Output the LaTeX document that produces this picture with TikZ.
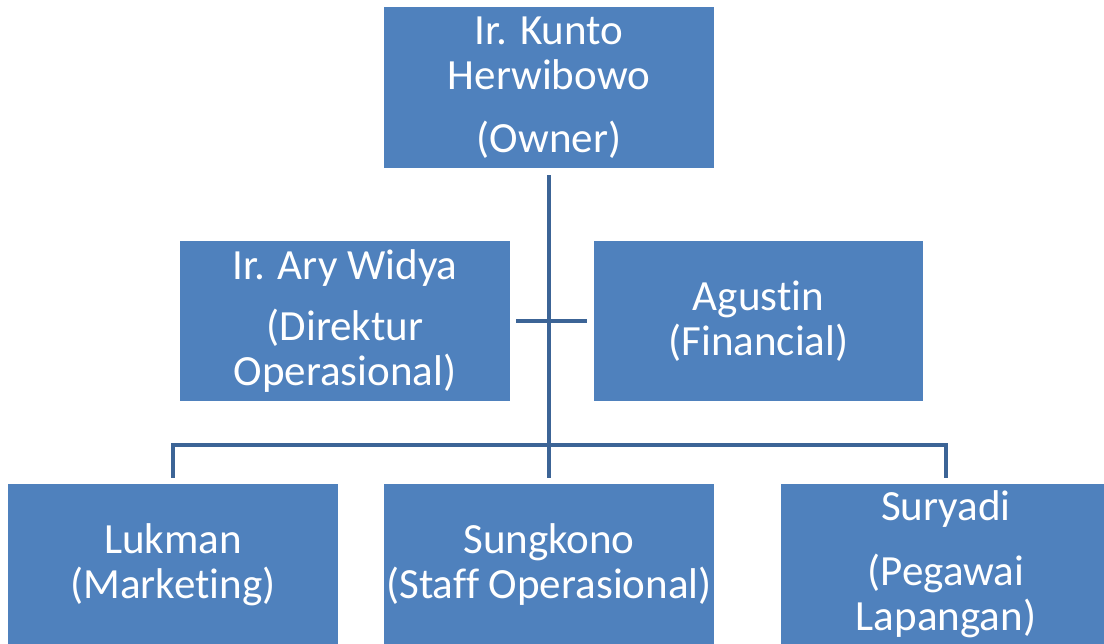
\documentclass[tikz,border=0pt]{standalone}
\usepackage{fontspec}
\setmainfont[Ligatures=NoCommon]{Carlito}
\definecolor{boxblue}{HTML}{4F81BD}
\definecolor{lineblue}{HTML}{3C6496}
\tikzset{
  orgbox/.style={rectangle,fill=boxblue,text=white,minimum width=6.6cm,
    minimum height=3.22cm,inner sep=0pt,align=center,
    font=\fontsize{24.5}{25.6}\selectfont},
  link/.style={draw=lineblue,line width=2.8pt}
}
\begin{document}
\begin{tikzpicture}[x=0.02cm,y=-0.02cm]
\useasboundingbox (0,0) rectangle (1104,643);
\clip (0,0) rectangle (1104,643);
%
\node[orgbox] (owner) at (549,87.5) {Ir. Kunto\\Herwibowo\\[0.36cm](Owner)};
\node[orgbox] (ary) at (345,321) {Ir. Ary Widya\\[0.34cm](Direktur\\Operasional)};
\node[orgbox] (agustin) at (758.5,321) {Agustin\\(Financial)};
%
\node[orgbox] (lukman) at (173,564.5) {Lukman\\(Marketing)};
\node[orgbox] (sungkono) at (549,564.5) {Sungkono\\(Staff Operasional)};
\node[orgbox] (suryadi) at (946,564.5) {Suryadi\\[0.4cm](Pegawai\\Lapangan)};
%
\coordinate (bar) at (549,445);
\draw[link] ([yshift=-0.14cm]owner.south) -- ([yshift=0.12cm]sungkono.north);
\draw[link] ([xshift=0.12cm]ary.east) -- ([xshift=-0.12cm]agustin.west);
\draw[link] ([yshift=0.12cm]lukman.north) |- (bar) -| ([yshift=0.12cm]suryadi.north);
\end{tikzpicture}
\end{document}
